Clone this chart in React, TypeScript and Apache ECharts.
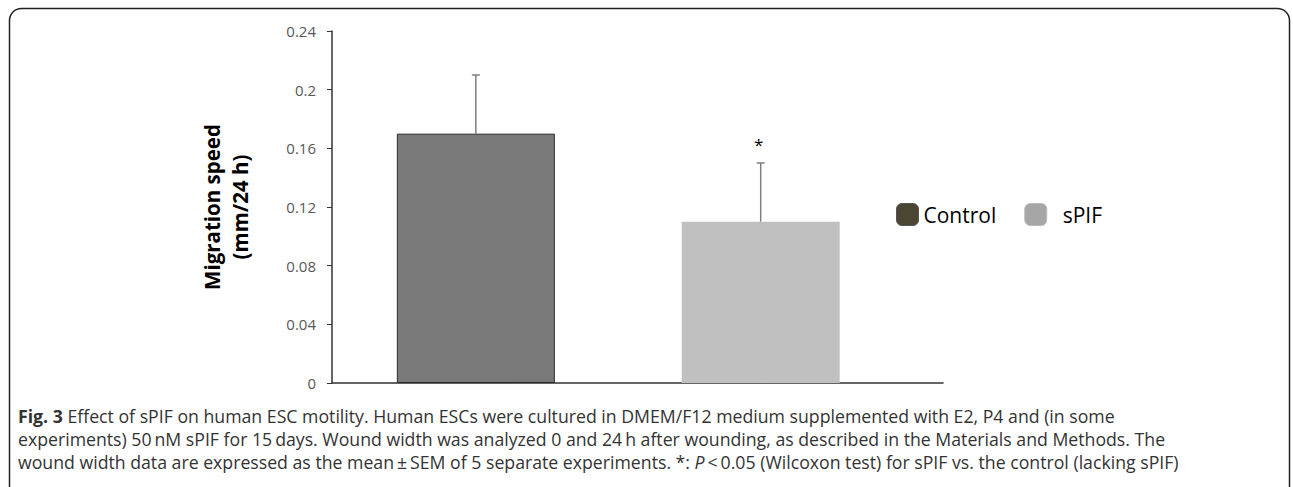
import React, { useEffect, useRef } from "react";
import * as echarts from "echarts";

const categories = ["Control", "sPIF"];
const seriesNames = ["Control", "sPIF"];
const means = [0.17, 0.11];
const sem = [0.04, 0.04];
const significance = ["", "*"];
const yTicks = { min: 0, max: 0.24, interval: 0.04 };
const captionLines = [
  "{b|Fig. 3} Effect of sPIF on human ESC motility. Human ESCs were cultured in DMEM/F12 medium supplemented with E2, P4 and (in some",
  "experiments) 50\u2009nM sPIF for 15\u2009days. Wound width was analyzed 0 and 24\u2009h after wounding, as described in the Materials and Methods. The",
  "wound width data are expressed as the mean\u2009\u00b1\u2009SEM of 5 separate experiments. *: {i|P}\u2009<\u20090.05 (Wilcoxon test) for sPIF vs. the control (lacking sPIF)",
];

const FONT = "'Open Sans', sans-serif";
const CAP = 17.7;

export default function App() {
  const ref = useRef<HTMLDivElement>(null);
  useEffect(() => {
    if (!ref.current) return;
    const chart = echarts.init(ref.current, undefined, { renderer: "svg" });
    const barColors = ["#7a7a7a", "#c0c0c0"];
    const legendColors = ["#4b4631", "#a6a6a6"];
    const legendBorders = ["#555555", "#bbbbbb"];
    const option: any = {
      animation: false,
      backgroundColor: "#ffffff",
      grid: { left: 332, right: 350, top: 31, bottom: 104 },
      legend: {
        left: 891,
        top: 198,
        itemWidth: 22,
        itemHeight: 22,
        itemGap: 28,
        textStyle: { fontFamily: FONT, fontSize: 21, color: "#000" },
        formatter: (n: string) => (n === "sPIF" ? "  sPIF" : n),
        data: seriesNames.map((n, i) => ({
          name: n,
          icon: "roundRect",
          itemStyle: { color: legendColors[i], borderColor: legendBorders[i], borderWidth: 1 },
        })),
      },
      xAxis: {
        type: "value",
        min: -0.505,
        max: 1.64,
        splitLine: { show: false },
        axisLine: { show: true, onZero: false, lineStyle: { color: "#333", width: 1.5 } },
        axisTick: { show: false },
        axisLabel: { show: false },
      },
      yAxis: {
        type: "value",
        min: yTicks.min,
        max: yTicks.max,
        interval: yTicks.interval,
        splitLine: { show: false },
        axisLine: { show: true, onZero: false, lineStyle: { color: "#333", width: 1.5 } },
        axisTick: { show: true, length: 5, lineStyle: { color: "#333" } },
        axisLabel: {
          fontFamily: FONT,
          fontSize: 15,
          color: "#595959",
          margin: 16,
          formatter: (v: number) => String(Math.round(v * 100) / 100),
        },
      },
      series: [
        ...seriesNames.map((n, i) => ({
          name: n,
          type: "bar",
          barWidth: 158,
          barGap: "-100%",
          data: [[i, means[i]]],
          itemStyle: {
            color: barColors[i],
            borderColor: i === 0 ? "#2a2a2a" : barColors[i],
            borderWidth: i === 0 ? 1 : 0,
          },
        })),
        {
          type: "custom",
          name: "err",
          z: 5,
          data: categories.map((_, j) => [j, means[j], sem[j]]),
          renderItem: (params: any, api: any) => {
            const x = api.value(0);
            const m = api.value(1);
            const e = api.value(2);
            const sig = significance[params.dataIndex];
            const base = api.coord([x, m]);
            const top = api.coord([x, m + e]);
            const children: any[] = [
              {
                type: "line",
                shape: { x1: base[0], y1: base[1], x2: top[0], y2: top[1] },
                style: { stroke: "#7f7f7f", lineWidth: 1.5 },
              },
              {
                type: "line",
                shape: { x1: top[0] - 4, y1: top[1], x2: top[0] + 4, y2: top[1] },
                style: { stroke: "#7f7f7f", lineWidth: 1.5 },
              },
            ];
            if (sig) {
              children.push({
                type: "text",
                x: top[0] - 2,
                y: top[1] - 19,
                style: {
                  text: sig,
                  fontFamily: FONT,
                  fontSize: 17,
                  fill: "#000",
                  textAlign: "center",
                  textVerticalAlign: "middle",
                },
              });
            }
            return { type: "group", children };
          },
        },
      ],
      graphic: [
        {
          type: "rect",
          shape: { x: 9.5, y: 8.5, width: 1280, height: 490, r: 12 },
          style: { fill: "none", stroke: "#222", lineWidth: 1.5 },
          silent: true,
        },
        {
          type: "text",
          x: 212,
          y: 207,
          rotation: Math.PI / 2,
          style: {
            text: "Migration speed",
            fontFamily: FONT,
            fontSize: 20.5,
            fontWeight: "bold",
            fill: "#000",
            textAlign: "center",
            textVerticalAlign: "middle",
          },
        },
        {
          type: "text",
          x: 240,
          y: 207,
          rotation: Math.PI / 2,
          style: {
            text: "(mm/24 h)",
            fontFamily: FONT,
            fontSize: 20.5,
            fontWeight: "bold",
            fill: "#000",
            textAlign: "center",
            textVerticalAlign: "middle",
          },
        },
        ...captionLines.map((t, i) => ({
          type: "text",
          x: 18,
          y: 416 + i * 23,
          style: {
            text: t,
            fontFamily: FONT,
            fontSize: CAP,
            fill: "#333",
            textAlign: "left",
            textVerticalAlign: "middle",
            rich: {
              b: { fontFamily: FONT, fontSize: CAP, fontWeight: "bold", fill: "#333" },
              i: { fontFamily: FONT, fontSize: CAP, fontStyle: "italic", fill: "#333" },
            },
          },
        })),
      ],
    };
    chart.setOption(option);
    return () => chart.dispose();
  }, []);
  return (
    <div
      ref={ref}
      style={{ position: "fixed", left: 0, top: 0, width: 1293, height: 487, background: "#fff" }}
    />
  );
}
